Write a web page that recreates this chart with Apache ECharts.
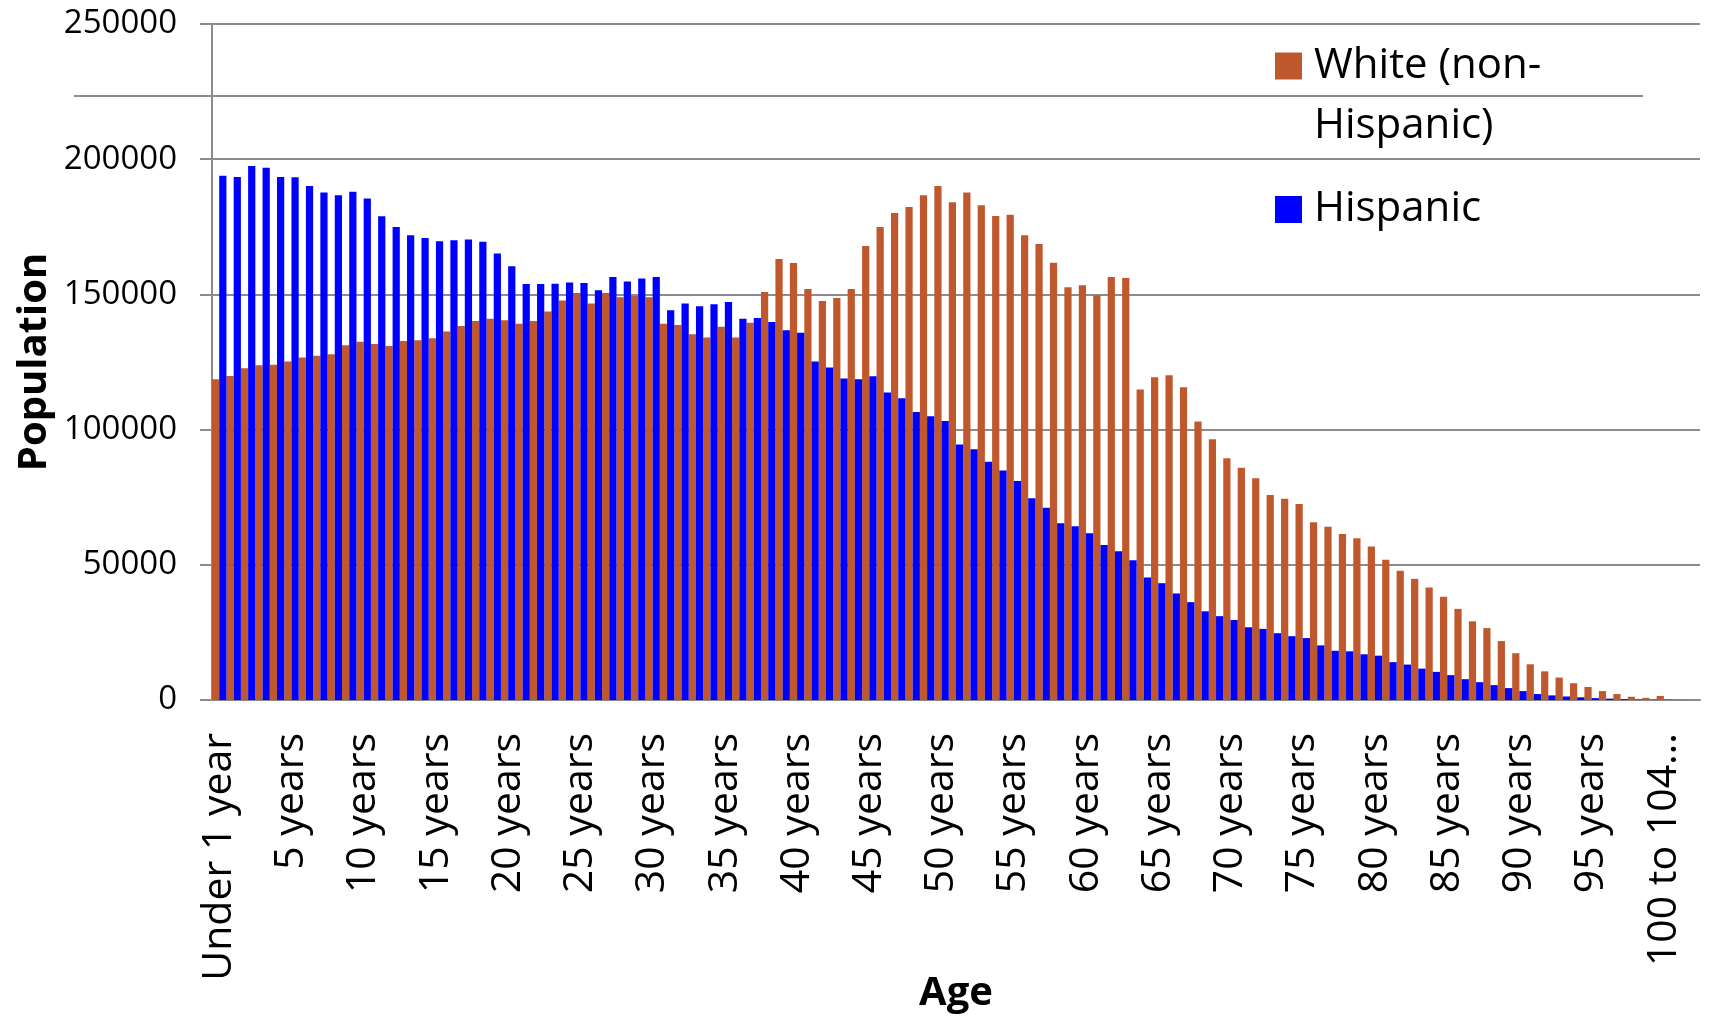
<!DOCTYPE html>
<html>
<head>
<meta charset="utf-8">
<title>Population by age</title>
<script src="https://cdn.jsdelivr.net/npm/echarts@6/dist/echarts.min.js"></script>
<style>
    html, body { margin: 0; padding: 0; background: #fff; }
    #main { width: 1710px; height: 1017px; }
</style>
</head>
<body>
<div id="main"></div>
<script>
// age groups: Under 1 year, 1 year, 2 years ... 99 years, then the open groups
var ages = ['Under 1 year', '1 year'];
for (var i = 2; i < 100; i++) ages.push(i + ' years');
ages.push('100 to 104 years', '105 to 109 years', '110 years and over');

// White (non-Hispanic), one value per age group
var white = [
    118600, 119800, 122700, 123800, 124000, 125200, 126700, 127300, 127900, 131200,
    132500, 131700, 130900, 132800, 133000, 133800, 136300, 138300, 140200, 141000,
    140400, 139100, 140200, 143700, 147700, 150500, 146600, 150500, 148900, 149400,
    148900, 139100, 138700, 135300, 134100, 138000, 134100, 139500, 150900, 163100,
    161600, 152000, 147600, 148700, 152000, 167900, 174900, 180100, 182300, 186700,
    190100, 184100, 187700, 183000, 179000, 179500, 171900, 168600, 161700, 152600,
    153400, 149700, 156400, 156100, 114800, 119400, 120100, 115700, 103000, 96400,
    89400, 85900, 82000, 75800, 74400, 72500, 65700, 64100, 61400, 59800,
    56800, 51900, 47800, 44800, 41600, 38200, 33700, 29100, 26600, 21800,
    17300, 13200, 10600, 8300, 6200, 4800, 3300, 2200, 1200, 800,
    1500, 100, 20
];

// Hispanic
var hispanic = [
    193900, 193400, 197500, 196800, 193400, 193300, 190100, 187700, 186700, 188000,
    185500, 178900, 174900, 171900, 170900, 169700, 170000, 170300, 169500, 165100,
    160400, 153800, 153800, 153900, 154400, 154200, 151500, 156400, 154800, 155900,
    156400, 144100, 146600, 145600, 146400, 147200, 141000, 141300, 139800, 136700,
    135800, 125200, 123000, 118900, 118600, 119700, 113700, 111600, 106500, 104900,
    103200, 94500, 92700, 88100, 84900, 81000, 74600, 71100, 65400, 64300,
    61700, 57300, 55000, 51700, 45300, 43200, 39400, 36200, 32800, 31000,
    29600, 26900, 26300, 24700, 23600, 22900, 20200, 18200, 18000, 16900,
    16400, 14000, 13100, 11600, 10400, 9200, 7700, 6600, 5500, 4400,
    3300, 2200, 1700, 1300, 1000, 700, 500, 300, 150, 100,
    100, 20, 5
];

// value axis ticks
var yMin = 0, yMax = 250000, yStep = 50000;

var font = 'Open Sans';
var grey = '#8c8c8c';

// legend swatches: a 27px square inside an 87px tall box, so the square can sit
// level with the first text line (top) or with a single line (middle)
var iconTop = 'path://M0,0h27v27h-27z M0,86.99h0.01v0.01h-0.01z';
var iconMid = 'path://M0,0h0.01v0.01h-0.01z M0,30h27v27h-27z M0,86.99h0.01v0.01h-0.01z';

var chartDom = document.getElementById('main');
var myChart = echarts.init(chartDom);
var option;

option = {
    animation: false,
    backgroundColor: '#fff',
    textStyle: { fontFamily: font, color: '#000' },
    grid: { left: 212, right: 10, top: 24, bottom: 317, outerBoundsMode: 'none', containLabel: false },
    legend: {
        orient: 'vertical',
        left: 1275,
        top: 36,
        padding: 0,
        itemGap: 10,
        itemWidth: 27,
        itemHeight: 87,
        textStyle: { fontFamily: font, fontSize: 42, lineHeight: 60, color: '#000', padding: [0, 0, 0, 7] },
        data: [
            { name: 'White (non-Hispanic)', icon: iconTop },
            { name: 'Hispanic', icon: iconMid }
        ],
        formatter: function (n) {
            return n === 'White (non-Hispanic)' ? 'White (non-\nHispanic)' : n;
        }
    },
    // stray rule across the top of the picture
    graphic: [{
        type: 'line',
        shape: { x1: 74, y1: 96, x2: 1643, y2: 96 },
        style: { stroke: grey, lineWidth: 2 },
        silent: true
    }],
    xAxis: {
        type: 'category',
        data: ages,
        name: 'Age',
        nameLocation: 'middle',
        nameGap: 274,
        nameMoveOverlap: false,
        nameTextStyle: { fontFamily: font, fontSize: 40, fontWeight: 'bold', color: '#000' },
        axisLine: { lineStyle: { color: grey, width: 2 } },
        axisTick: { interval: 0, length: 13, lineStyle: { color: grey, width: 2 } },
        axisLabel: {
            interval: 4,
            rotate: 90,
            margin: 33,
            fontSize: 41,
            fontFamily: font,
            color: '#000',
            formatter: function (v) {
                return v.length > 14 ? v.slice(0, 10) + '…' : v;
            }
        }
    },
    yAxis: {
        type: 'value',
        min: yMin,
        max: yMax,
        interval: yStep,
        name: 'Population',
        nameLocation: 'middle',
        nameGap: 157,
        nameMoveOverlap: false,
        nameTextStyle: { fontFamily: font, fontSize: 40, fontWeight: 'bold', color: '#000' },
        axisLine: { show: true, lineStyle: { color: grey, width: 2 } },
        axisTick: { show: true, length: 12, lineStyle: { color: grey, width: 2 } },
        splitLine: { lineStyle: { color: grey, width: 2 } },
        axisLabel: {
            margin: 35,
            fontSize: 33,
            fontFamily: font,
            color: '#000',
            formatter: function (v) { return String(v); }
        }
    },
    series: [
        {
            name: 'White (non-Hispanic)',
            type: 'bar',
            data: white,
            barGap: '0%',
            barCategoryGap: '0%',
            itemStyle: { color: '#c0582d' }
        },
        {
            name: 'Hispanic',
            type: 'bar',
            data: hispanic,
            barGap: '0%',
            barCategoryGap: '0%',
            itemStyle: { color: '#0000ff' }
        }
    ]
};

option && myChart.setOption(option);
</script>
</body>
</html>
